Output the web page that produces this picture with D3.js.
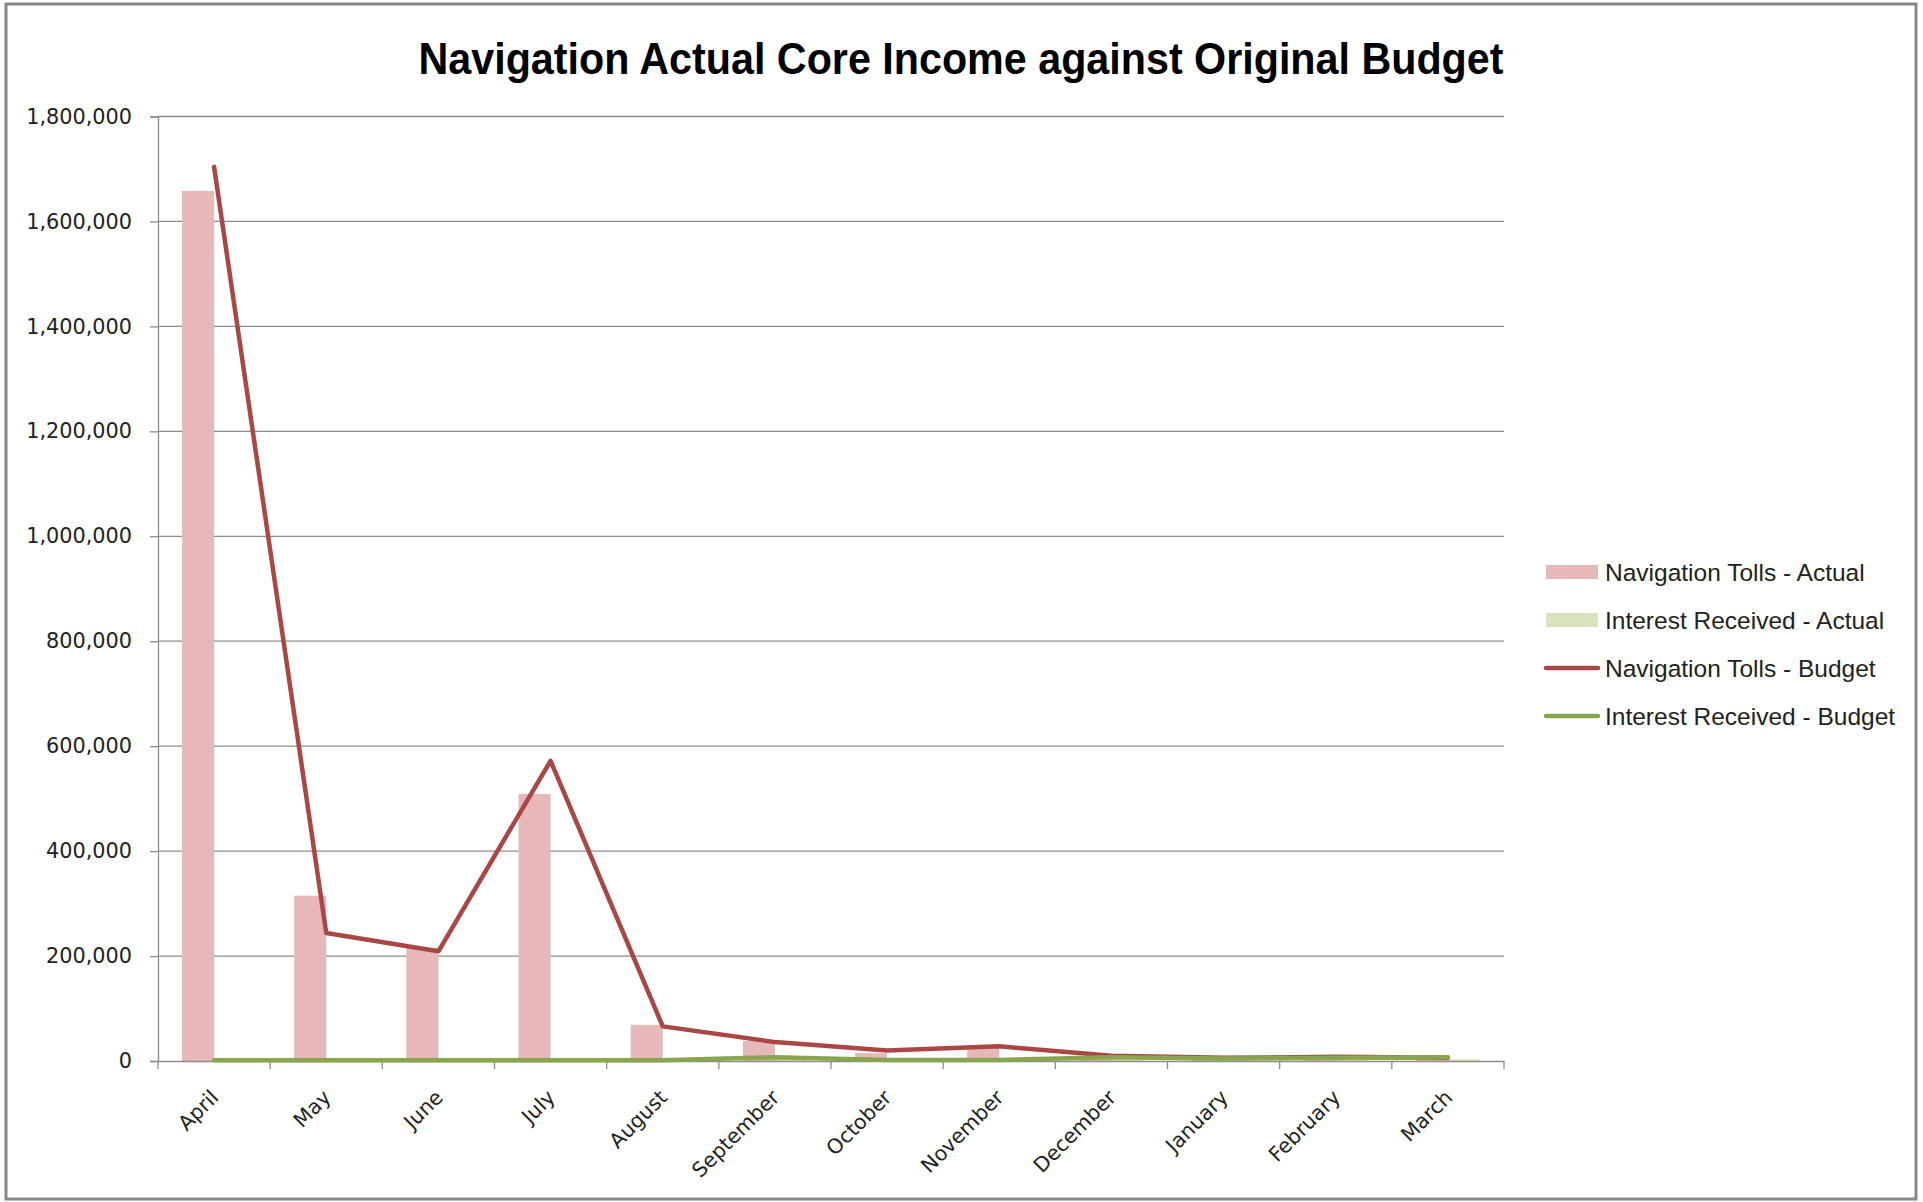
<!DOCTYPE html>
<html>
<head>
<meta charset="utf-8">
<script src="https://cdn.jsdelivr.net/npm/d3@7"></script>
<style>
  html, body { margin: 0; padding: 0; background: #fff; }
  svg { display: block; }
</style>
</head>
<body>
<svg id="chart" width="1923" height="1202"></svg>
<script>
const months = ["April","May","June","July","August","September","October","November","December","January","February","March"];
const navTollsActual   = [1658000, 315000, 215000, 509000, 69000, 38000, 15000, 30000, 5000, 3000, 4000, 3000];
const interestActual   = [1000, 1000, 1000, 1000, 1000, 4000, 1000, 1000, 3000, 2000, 2000, 3000];
const navTollsBudget   = [1704000, 244000, 209000, 572000, 66000, 36000, 20000, 28000, 10000, 6000, 8000, 6000];
const interestBudget   = [1500, 1500, 1500, 1500, 1500, 7000, 2000, 2000, 7000, 5000, 6000, 7000];
const yTicks = [0, 200000, 400000, 600000, 800000, 1000000, 1200000, 1400000, 1600000, 1800000];
const legendItems = [
  {label: "Navigation Tolls - Actual", type: "bar", color: "#E6B9B8"},
  {label: "Interest Received - Actual", type: "bar", color: "#D7E4BD"},
  {label: "Navigation Tolls - Budget", type: "line", color: "#AA4643"},
  {label: "Interest Received - Budget", type: "line", color: "#89A54E"}
];
const title = "Navigation Actual Core Income against Original Budget";

const svg = d3.select("#chart");
const L = 158, R = 1504, T = 116.5, B = 1061;

// outer border
svg.append("rect").attr("x", 6).attr("y", 4).attr("width", 1910).attr("height", 1195)
  .attr("fill", "#fff").attr("stroke", "#888").attr("stroke-width", 3);

const x = d3.scaleBand().domain(months).range([L, R]).paddingInner(0).paddingOuter(0);
const y = d3.scaleLinear().domain([0, 1800000]).range([B, T]);
const bw = x.bandwidth() / 3.5;
const cx = m => x(m) + x.bandwidth() / 2;

// gridlines
svg.append("g").selectAll("line").data(yTicks.filter(d => d > 0)).join("line")
  .attr("x1", L).attr("x2", R).attr("y1", d => y(d)).attr("y2", d => y(d))
  .attr("stroke", "#8c8c8c").attr("stroke-width", 1.3);

// y axis
const yAxis = d3.axisLeft(y).tickValues(yTicks).tickSize(8).tickPadding(18)
  .tickFormat(d3.format(","));
const gy = svg.append("g").attr("transform", `translate(${L},0)`).call(yAxis);
gy.select(".domain").attr("stroke", "#8c8c8c").attr("stroke-width", 1.3);
gy.selectAll(".tick line").attr("stroke", "#8c8c8c").attr("stroke-width", 1.3);
gy.selectAll(".tick text").attr("font-family", "DejaVu Sans").attr("font-size", 20.8).attr("fill", "#222");

// bars
svg.append("g").selectAll("rect").data(months).join("rect")
  .attr("x", d => cx(d) - bw).attr("width", bw)
  .attr("y", (d, i) => y(navTollsActual[i])).attr("height", (d, i) => B - y(navTollsActual[i]))
  .attr("fill", "#E6B9B8");
svg.append("g").selectAll("rect").data(months).join("rect")
  .attr("x", d => cx(d)).attr("width", bw)
  .attr("y", (d, i) => y(interestActual[i])).attr("height", (d, i) => B - y(interestActual[i]))
  .attr("fill", "#D7E4BD");

// x axis
const xAxis = d3.axisBottom(x).tickSize(0).tickFormat("");
const gx = svg.append("g").attr("transform", `translate(0,${B})`).call(xAxis);
gx.select(".domain").attr("stroke", "#8c8c8c").attr("stroke-width", 1.3);
const bounds = months.map(m => x(m)).concat([R]);
svg.append("g").selectAll("line").data(bounds).join("line")
  .attr("x1", d => d).attr("x2", d => d).attr("y1", B).attr("y2", B + 8)
  .attr("stroke", "#8c8c8c").attr("stroke-width", 1.3);
svg.append("g").selectAll("text").data(months).join("text")
  .attr("transform", d => `translate(${cx(d) - 5},${B + 27}) rotate(-45)`)
  .attr("text-anchor", "end").attr("dy", "0.74em")
  .attr("font-family", "DejaVu Sans").attr("font-size", 20.5).attr("fill", "#222")
  .text(d => d);

// lines
const lineGen = arr => d3.line().x((d, i) => cx(months[i])).y(d => y(d))(arr);
svg.append("path").attr("d", lineGen(navTollsBudget)).attr("fill", "none")
  .attr("stroke", "#AA4643").attr("stroke-width", 4.5).attr("stroke-linecap", "round").attr("stroke-linejoin", "round");
svg.append("path").attr("d", lineGen(interestBudget)).attr("fill", "none")
  .attr("stroke", "#89A54E").attr("stroke-width", 4.5).attr("stroke-linecap", "round").attr("stroke-linejoin", "round");

// title
svg.append("text").attr("x", 961).attr("y", 74).attr("text-anchor", "middle")
  .attr("font-family", "Liberation Sans").attr("font-weight", "bold").attr("font-size", 44)
  .attr("textLength", 1085).attr("lengthAdjust", "spacingAndGlyphs").attr("fill", "#000")
  .text(title);

// legend
const lg = svg.append("g");
const rowY = [572, 620, 668, 716];
legendItems.forEach((it, i) => {
  const yy = rowY[i];
  if (it.type === "bar") {
    lg.append("rect").attr("x", 1546).attr("y", yy - 7).attr("width", 52).attr("height", 14).attr("fill", it.color);
  } else {
    lg.append("line").attr("x1", 1546).attr("x2", 1598).attr("y1", yy).attr("y2", yy)
      .attr("stroke", it.color).attr("stroke-width", 4.5).attr("stroke-linecap", "round");
  }
  lg.append("text").attr("x", 1605).attr("y", yy + 8.5)
    .attr("font-family", "Liberation Sans").attr("font-size", 24.5).attr("fill", "#222")
    .text(it.label);
});
</script>
</body>
</html>
